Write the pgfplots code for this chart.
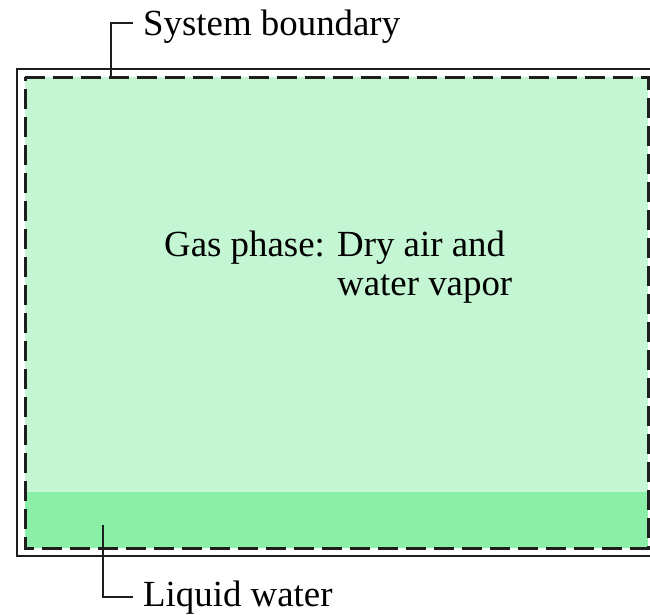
\documentclass[border=0pt]{standalone}
\usepackage{pgfplots}
\pgfplotsset{compat=1.18}
\usepackage{fontspec}
\setmainfont{Liberation Serif}
\definecolor{gaslight}{RGB}{197,246,212}
\definecolor{liqgreen}{RGB}{140,239,167}
\definecolor{linecol}{RGB}{30,30,30}
\begin{document}
\begin{tikzpicture}
\begin{axis}[name=ax,width=650bp,height=614bp,scale only axis,hide axis,
  xmin=0,xmax=650,ymin=0,ymax=614,y dir=reverse,clip=true]
% gas phase region
\addplot[fill=gaslight,draw=none] coordinates {(25,77) (648,77) (648,492) (25,492) (25,77)};
% liquid water region
\addplot[fill=liqgreen,draw=none] coordinates {(25,492) (648,492) (648,548) (25,548) (25,492)};
% outer solid boundary (extends past right edge)
\addplot[draw=linecol,line width=2.4bp] coordinates {(660,69) (17,69) (17,556) (660,556)};
% dashed system boundary
\addplot[draw=linecol,line width=3bp,dash pattern=on 20bp off 8bp] coordinates {(25,77) (648,77) (648,548) (25,548) (25,77)};
% leader lines
\addplot[draw=linecol,line width=1.8bp] coordinates {(133,23) (111,23) (111,77)};
\addplot[draw=linecol,line width=1.8bp] coordinates {(103,525) (103,597) (133,597)};
% labels
\node[anchor=base west,inner sep=0pt,font=\fontsize{37}{40}\selectfont] at (axis cs:143,36) {System boundary};
\node[anchor=base west,inner sep=0pt,font=\fontsize{37}{40}\selectfont] at (axis cs:164,256) {Gas phase: Dry air and};
\node[anchor=base west,inner sep=0pt,font=\fontsize{37}{40}\selectfont] at (axis cs:337,295) {water vapor};
\node[anchor=base west,inner sep=0pt,font=\fontsize{37}{40}\selectfont] at (axis cs:143,606) {Liquid water};
\end{axis}
\pgfresetboundingbox
\path[use as bounding box] (ax.south west) rectangle (ax.north east);
\end{tikzpicture}
\end{document}
